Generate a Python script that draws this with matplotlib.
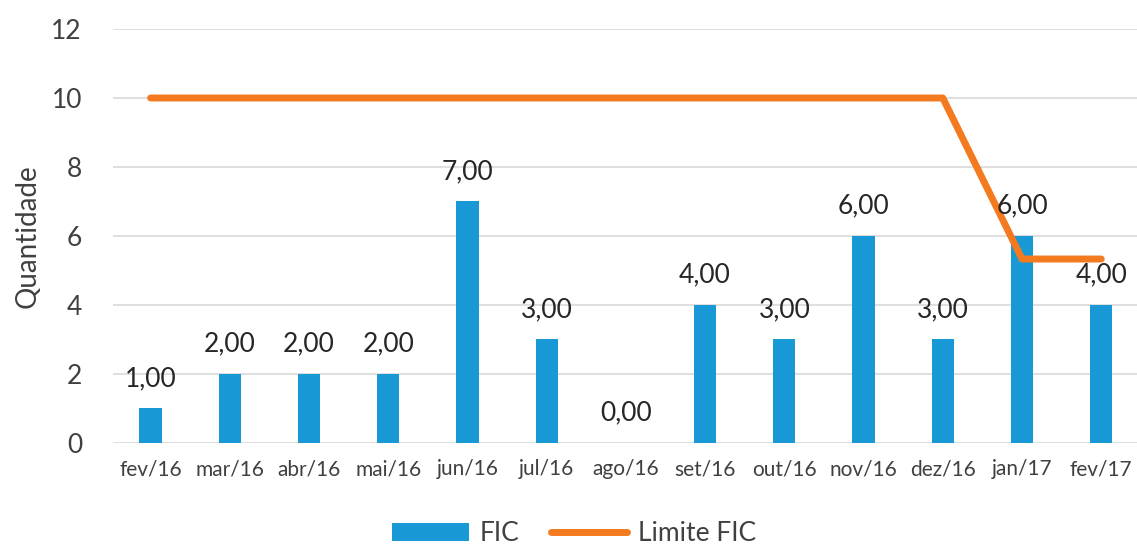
import numpy as np
import matplotlib.pyplot as plt

meses = ["fev/16", "mar/16", "abr/16", "mai/16", "jun/16", "jul/16", "ago/16",
         "set/16", "out/16", "nov/16", "dez/16", "jan/17", "fev/17"]
fic = [1, 2, 2, 2, 7, 3, 0, 4, 3, 6, 3, 6, 4]
limite_fic = [10, 10, 10, 10, 10, 10, 10, 10, 10, 10, 10, 5.33, 5.33]

plt.rcParams['font.family'] = ['Lato', 'DejaVu Sans']

fig = plt.figure(figsize=(11.37, 5.48), dpi=100)
ax = fig.add_axes([0.099, 0.192, 0.903, 0.755])

x = np.arange(len(meses))
barras = ax.bar(x, fic, width=0.28, color="#1899d6", label="FIC", zorder=2)
linha, = ax.plot(x, limite_fic, color="#f47a20", linewidth=5, solid_capstyle="round",
                 label="Limite FIC", zorder=3)

for xi, v in zip(x, fic):
    ax.text(xi, v + 0.5, f"{v:.2f}".replace(".", ","), ha="center", va="bottom",
            fontsize=19, color="#262626", zorder=4)

ax.set_ylim(0, 12)
ax.set_xlim(-0.48, len(meses) - 0.52)
ax.set_yticks(range(0, 13, 2))
ax.set_xticks(x)
ax.set_xticklabels(meses, fontsize=15, color="#404040")
ax.tick_params(axis="y", labelsize=19, labelcolor="#404040", length=0, pad=22)
ax.tick_params(axis="x", length=0, pad=12)
ax.grid(axis="y", color="#d9d9d9", linewidth=1.2, zorder=0)
for s in ax.spines.values():
    s.set_visible(False)
ax.set_ylabel("Quantidade", fontsize=20, color="#404040", labelpad=8)

fig.legend([barras, linha], ["FIC", "Limite FIC"], loc="lower center",
           bbox_to_anchor=(0.505, -0.04), ncol=2, frameon=False,
           fontsize=19, handlelength=2.9, handletextpad=0.4, columnspacing=1.2,
           labelcolor="#404040")

fig.savefig("out.png", dpi=100)
